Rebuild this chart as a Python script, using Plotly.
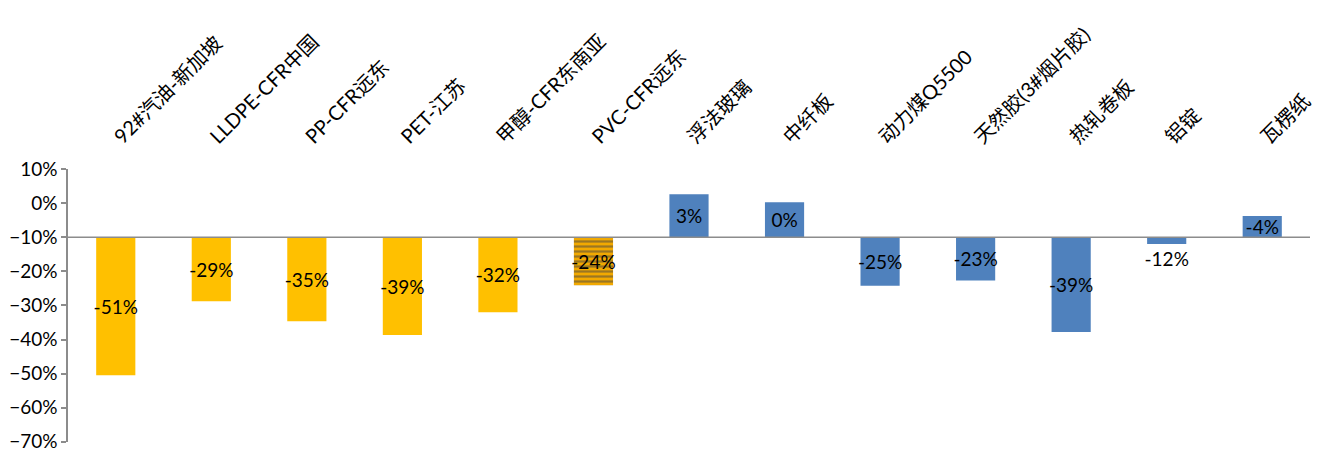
import plotly.graph_objects as go

categories = ["92#汽油-新加坡", "LLDPE-CFR中国", "PP-CFR远东", "PET-江苏", "甲醇-CFR东南亚",
              "PVC-CFR远东", "浮法玻璃", "中纤板", "动力煤Q5500", "天然胶(3#烟片胶)",
              "热轧卷板", "铝锭", "瓦楞纸"]
values = [-0.505, -0.288, -0.346, -0.387, -0.32, -0.241, 0.026, 0.003, -0.242, -0.227,
          -0.378, -0.12, -0.038]
labels = ["-51%", "-29%", "-35%", "-39%", "-32%", "-24%", "3%", "0%", "-25%", "-23%",
          "-39%", "-12%", "-4%"]
baseline = -0.10
tick_vals = [0.1, 0.0, -0.1, -0.2, -0.3, -0.4, -0.5, -0.6, -0.7]

GOLD = "#FFC000"
BLUE = "#4F81BD"
colors = [GOLD] * 5 + ["#F2A900"] + [BLUE] * 7
shapes_pat = [""] * 5 + ["-"] + [""] * 7
text_pos = ["inside"] * 11 + ["outside", "inside"]

FONT = "Lato, 'Noto Sans CJK SC', sans-serif"

fig = go.Figure()
fig.add_trace(go.Bar(
    x=categories,
    y=[v - baseline for v in values],
    base=baseline,
    width=0.41,
    marker=dict(
        color=colors,
        line=dict(width=0),
        pattern=dict(shape=shapes_pat, fgcolor="#A86A00", size=5, solidity=0.45,
                     fillmode="overlay"),
    ),
    text=labels,
    textposition=text_pos,
    insidetextanchor="middle",
    constraintext="none",
    textangle=0,
    textfont=dict(family=FONT, size=19, color="#000000"),
    outsidetextfont=dict(family=FONT, size=19, color="#000000"),
    cliponaxis=False,
    hoverinfo="skip",
))

fig.add_shape(type="line", xref="paper", yref="y", x0=0, x1=1, y0=baseline, y1=baseline,
              line=dict(color="#8C8C8C", width=1.5), layer="above")

fig.update_layout(
    width=1318, height=451,
    margin=dict(l=68, r=8, t=169, b=9),
    paper_bgcolor="white", plot_bgcolor="white",
    showlegend=False,
    font=dict(family=FONT, color="#000000"),
)
fig.update_xaxes(
    side="top", tickangle=-45, showline=False, showgrid=False, ticks="",
    tickfont=dict(family=FONT, size=20, color="#000000"), ticklabelstandoff=16,
    ticklabeloverflow="allow", automargin=False,
)
fig.update_yaxes(
    range=[-0.7005, 0.1002], tickvals=tick_vals, tickformat=".0%",
    showline=True, linecolor="#8C8C8C", linewidth=1.5,
    ticks="outside", ticklen=5, tickcolor="#8C8C8C", tickwidth=1.5,
    showgrid=False, zeroline=False, ticklabeloverflow="allow", automargin=False,
    tickfont=dict(family=FONT, size=19, color="#000000"),
)

fig.write_html("out.html")
